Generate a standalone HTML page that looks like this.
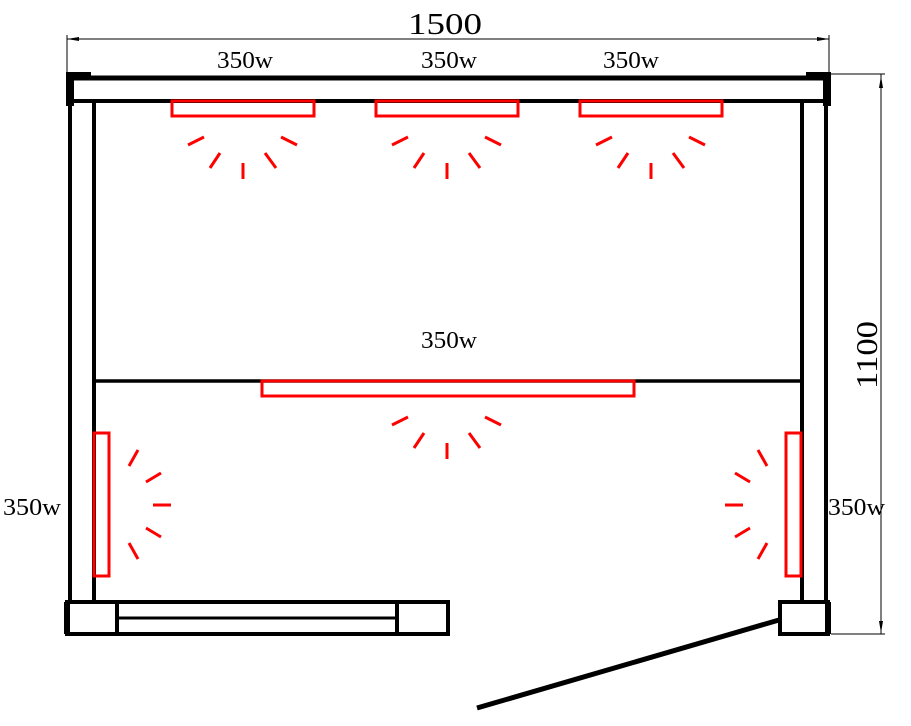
<!DOCTYPE html>
<html><head><style>html,body{margin:0;padding:0;background:#fff}svg{display:block}</style></head>
<body>
<svg width="911" height="726" viewBox="0 0 911 726" xmlns="http://www.w3.org/2000/svg">
<g stroke="#000" fill="none" stroke-linecap="butt">
<line x1="67" y1="39" x2="829" y2="39" stroke-width="1"/>
<line x1="67" y1="35" x2="67" y2="74" stroke-width="1"/>
<line x1="829" y1="35" x2="829" y2="74" stroke-width="1"/>
<polygon points="67,39 79,37 79,41" fill="#000" stroke="none"/>
<polygon points="829,39 817,37 817,41" fill="#000" stroke="none"/>
<line x1="881" y1="74" x2="881" y2="634" stroke-width="1"/>
<line x1="831" y1="74" x2="885" y2="74" stroke-width="1"/>
<line x1="831" y1="634" x2="885" y2="634" stroke-width="1"/>
<polygon points="881,76 879,88 883,88" fill="#000" stroke="none"/>
<polygon points="881,633 879,621 883,621" fill="#000" stroke="none"/>
<line x1="67" y1="78" x2="829" y2="78" stroke-width="5"/>
<line x1="67" y1="101" x2="829" y2="101" stroke-width="4"/>
<rect x="66" y="72" width="25" height="8" fill="#000" stroke="none"/>
<rect x="66" y="72" width="8" height="34" fill="#000" stroke="none"/>
<rect x="806" y="72" width="25" height="8" fill="#000" stroke="none"/>
<rect x="823" y="72" width="8" height="34" fill="#000" stroke="none"/>
<line x1="70" y1="101" x2="70" y2="603" stroke-width="4"/>
<line x1="94" y1="101" x2="94" y2="603" stroke-width="4"/>
<line x1="802" y1="101" x2="802" y2="603" stroke-width="4"/>
<line x1="826" y1="101" x2="826" y2="603" stroke-width="4"/>
<line x1="94" y1="381" x2="802" y2="381" stroke-width="3.5"/>
<rect x="67" y="602" width="381" height="32" stroke-width="4"/>
<line x1="67" y1="602" x2="67" y2="634" stroke-width="6"/>
<line x1="117" y1="602" x2="117" y2="634" stroke-width="4"/>
<line x1="397" y1="602" x2="397" y2="634" stroke-width="4"/>
<line x1="117" y1="618" x2="397" y2="618" stroke-width="3"/>
<rect x="780" y="602" width="48" height="32" stroke-width="4"/>
<line x1="828" y1="602" x2="828" y2="634" stroke-width="6"/>
<line x1="477" y1="708" x2="779" y2="620" stroke-width="5"/>
</g>
<g stroke="#f00" fill="none" stroke-width="3">
<rect x="172" y="101" width="142" height="15"/>
<rect x="376" y="101" width="142" height="15"/>
<rect x="580" y="101" width="142" height="15"/>
<rect x="262" y="381" width="372" height="15"/>
<rect x="94" y="433" width="15" height="143"/>
<rect x="786" y="433" width="15" height="143"/>
<g id="r1">
<line x1="188" y1="145" x2="204" y2="137"/>
<line x1="210" y1="168" x2="220" y2="153"/>
<line x1="243" y1="163" x2="243" y2="179"/>
<line x1="265" y1="153" x2="276" y2="168"/>
<line x1="281" y1="137" x2="297" y2="145"/>
</g>
<use href="#r1" x="204" y="0"/>
<use href="#r1" x="408" y="0"/>
<use href="#r1" x="204" y="280"/>
<g>
<line x1="129" y1="466" x2="138" y2="450"/>
<line x1="146" y1="482" x2="161" y2="473"/>
<line x1="153" y1="505" x2="171" y2="505"/>
<line x1="146" y1="528" x2="161" y2="537"/>
<line x1="129" y1="543" x2="138" y2="559"/>
</g>
<g transform="translate(896,0) scale(-1,1)">
<line x1="129" y1="466" x2="138" y2="450"/>
<line x1="146" y1="482" x2="161" y2="473"/>
<line x1="153" y1="505" x2="171" y2="505"/>
<line x1="146" y1="528" x2="161" y2="537"/>
<line x1="129" y1="543" x2="138" y2="559"/>
</g>
</g>
<g font-family="Liberation Serif, serif" fill="#000" font-size="24">
<text x="408" y="34" font-size="31" textLength="74" lengthAdjust="spacingAndGlyphs">1500</text>
<text x="217" y="68" textLength="56" lengthAdjust="spacingAndGlyphs">350w</text>
<text x="421" y="68" textLength="56" lengthAdjust="spacingAndGlyphs">350w</text>
<text x="603" y="68" textLength="56" lengthAdjust="spacingAndGlyphs">350w</text>
<text x="421" y="348" textLength="56" lengthAdjust="spacingAndGlyphs">350w</text>
<text x="3" y="515" textLength="58" lengthAdjust="spacingAndGlyphs">350w</text>
<text x="828" y="515" textLength="57" lengthAdjust="spacingAndGlyphs">350w</text>
<text x="0" y="0" font-size="31" textLength="68" lengthAdjust="spacingAndGlyphs" transform="translate(877,389) rotate(-90)">1100</text>
</g>
</svg>
</body></html>
